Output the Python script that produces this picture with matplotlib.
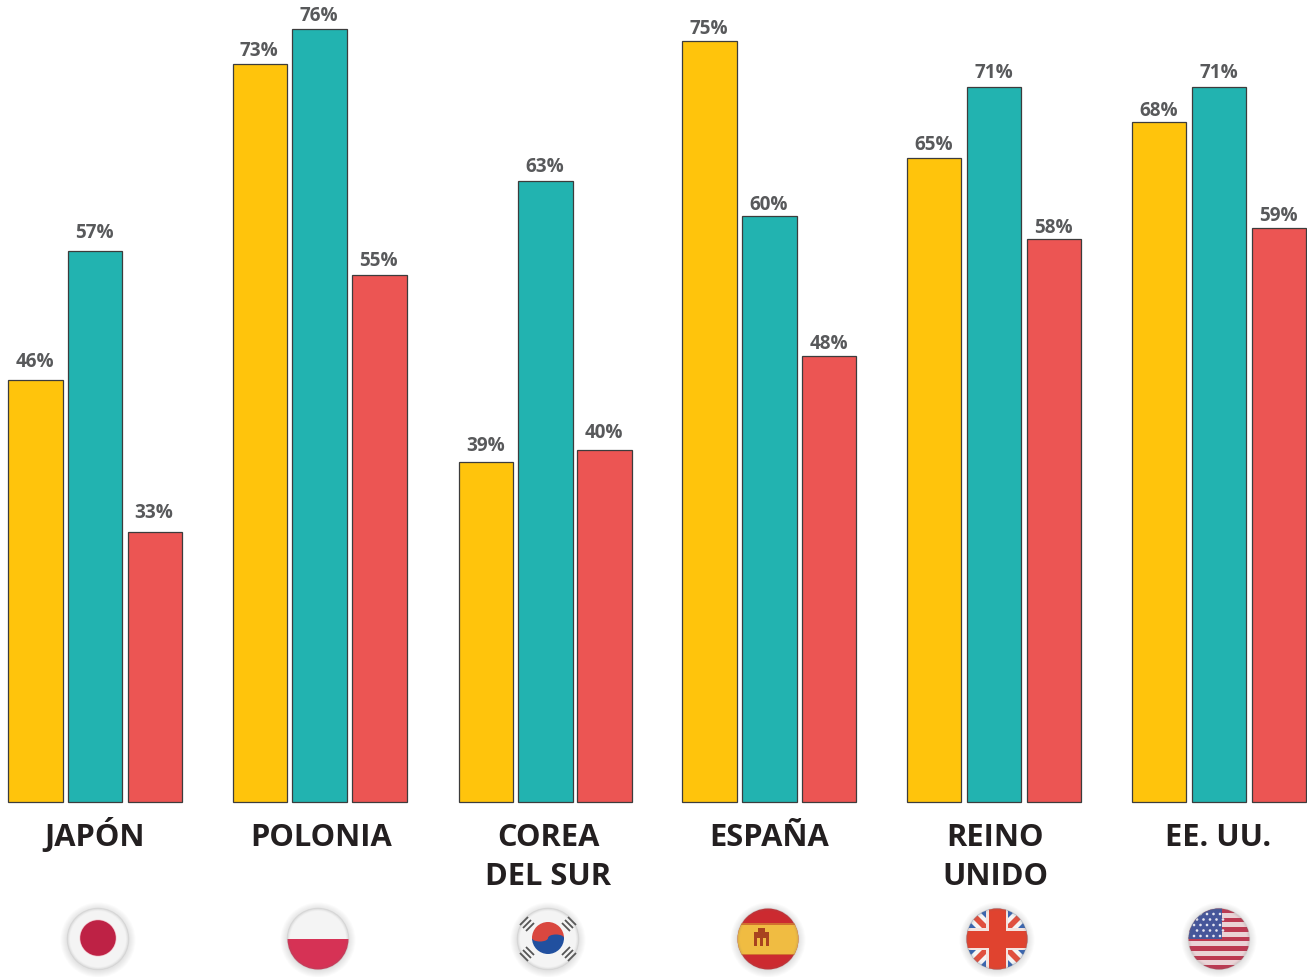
import matplotlib
matplotlib.use('Agg')
import matplotlib.pyplot as plt
from matplotlib.patches import Circle, Rectangle, Wedge, Polygon, Ellipse

plt.rcParams['font.family'] = ['Open Sans', 'DejaVu Sans']

# valores
paises = ['JAPÓN', 'POLONIA', 'COREA\nDEL SUR', 'ESPAÑA', 'REINO\nUNIDO', 'EE. UU.']
serie_amarilla = [46, 73, 39, 75, 65, 68]
serie_verde = [57, 76, 63, 60, 71, 71]
serie_roja = [33, 55, 40, 48, 58, 59]

colores = ['#FFC40C', '#22B3B0', '#EC5553']

# layout en pixeles
W, H = 1307, 977
inicio_grupo = [8.3, 232.5, 459.2, 682.4, 907.2, 1132.2]
paso_grupo = [59.6, 59.9, 59.1, 59.9, 59.9, 59.9]
ancho = 54.2
centro_texto = [95, 321, 548, 769, 995, 1218]
centro_bandera = [98, 318, 548, 768, 997, 1219]
# separacion etiqueta-barra, en el original no es constante
sep_etiqueta = [[13, 8, 11, 6, 7, 6],
                [13, 8, 9, 6, 9, 9],
                [14, 9, 12, 7, 6, 7]]
base_px, px_por_pct, base_val = 801, 11.7, 10
extra = 1 / px_por_pct  # la base de las barras queda 1 px mas abajo

fig = plt.figure(figsize=(W / 100, H / 100), dpi=100)
ax = fig.add_axes([0, 0, 1, 1])
ax.set_xlim(0, W)
ax.set_ylim(base_val - (H - base_px) / px_por_pct, base_val + base_px / px_por_pct)
ax.axis('off')

for s, serie in enumerate([serie_amarilla, serie_verde, serie_roja]):
    xs = [x + s * p for x, p in zip(inicio_grupo, paso_grupo)]
    ax.bar(xs, [v - base_val + extra for v in serie], width=ancho, bottom=base_val - extra, align='edge',
           color=colores[s], edgecolor='#3c3c3c', linewidth=0.9)
    for x, v, sep in zip(xs, serie, sep_etiqueta[s]):
        ax.annotate('%d%%' % v, (x + ancho / 2 - 0.5, v), xytext=(0, sep * 0.72), textcoords='offset points',
                    ha='center', va='baseline', fontsize=13.6, fontweight='bold', color='#58595b')

# capa en pixeles para nombres y banderas
ax2 = fig.add_axes([0, 0, 1, 1])
ax2.set_xlim(0, W)
ax2.set_ylim(H, 0)
ax2.axis('off')
ax2.patch.set_alpha(0)

for cx, nombre in zip(centro_texto, paises):
    for i, linea in enumerate(nombre.split('\n')):
        ax2.text(cx, 846 + i * 39, linea, ha='center', va='baseline', fontsize=22.2, fontweight='bold',
                 color='#231f20')


def rect(cx, cy, x, y, w, h, c, clip):
    p = Rectangle((cx + x, cy + y), w, h, color=c, lw=0, zorder=3)
    ax2.add_patch(p)
    p.set_clip_path(clip)
    return p


def poly(cx, cy, pts, c, clip):
    p = Polygon([(cx + a, cy + b) for a, b in pts], color=c, lw=0, zorder=3)
    ax2.add_patch(p)
    p.set_clip_path(clip)
    return p


def bandera_base(cx, cy=939, r=30.5):
    # sombra difusa alrededor
    for k in range(7):
        ax2.add_patch(Circle((cx, cy + 1), r + 7 - k, color='#000000', alpha=0.014, lw=0, zorder=1))
    fondo = Circle((cx, cy), r, color='#f4f4f4', lw=0, zorder=2)
    ax2.add_patch(fondo)
    for k, a in enumerate([0.15, 0.08, 0.04]):
        ax2.add_patch(Circle((cx, cy), r - k * 0.9, fill=False, ec='#777777', alpha=a, lw=1.0, zorder=6))
    return fondo


# Japon
cx = centro_bandera[0]
bandera_base(cx)
ax2.add_patch(Circle((cx, 938), 18.5, color='#F3C6CE', lw=0, zorder=3))
ax2.add_patch(Circle((cx, 938), 17.8, color='#BE2245', lw=0, zorder=3))

# Polonia
cx = centro_bandera[1]
c = bandera_base(cx)
rect(cx, 939, -32, 0, 64, 32, '#D63255', c)

# Corea
cx = centro_bandera[2]
c = bandera_base(cx)
ax2.add_patch(Wedge((cx, 938), 16, 180, 360, color='#D9473F', lw=0, zorder=3))
ax2.add_patch(Wedge((cx, 938), 16, 0, 180, color='#21509F', lw=0, zorder=3))
ax2.add_patch(Ellipse((cx - 8, 938), 16, 7, color='#D9473F', lw=0, zorder=4))
ax2.add_patch(Ellipse((cx + 8, 938), 16, 7, color='#21509F', lw=0, zorder=4))
for sx, sy in [(-1, -1), (1, -1), (-1, 1), (1, 1)]:
    for d in [-3, 0, 3]:
        mx, my = sx * (21 + d), sy * (15 + d)
        ex, ey = sx * 4, -sy * 4
        ax2.plot([cx + mx - ex, cx + mx + ex], [939 + my - ey, 939 + my + ey],
                 color='#555555', lw=1.3, zorder=4, solid_capstyle='butt')

# Espana
cx = centro_bandera[3]
c = bandera_base(cx)
rect(cx, 939, -32, -32, 64, 64, '#CC2A30', c)
rect(cx, 939, -32, -16, 64, 32, '#F0BC42', c)
rect(cx, 939, -32, -16, 64, 1.5, '#D2702F', c)
rect(cx, 939, -32, 14.5, 64, 1.5, '#D2702F', c)
rect(cx, 939, -14, -7, 15, 14, '#A8431F', c)
rect(cx, 939, -11, -1, 3, 8, '#F0BC42', c)
rect(cx, 939, -5, -1, 3, 8, '#F0BC42', c)
rect(cx, 939, -10, -11, 7, 4, '#A8431F', c)

# Reino Unido
cx = centro_bandera[4]
c = bandera_base(cx)
rect(cx, 939, -32, -32, 64, 64, '#3A66B0', c)
for a, b in [(1, 1), (1, -1)]:
    poly(cx, 939, [(-32 * a - 5, -32 * b + 5 * b), (-32 * a + 5, -32 * b - 5 * b),
                   (32 * a + 5, 32 * b - 5 * b), (32 * a - 5, 32 * b + 5 * b)], '#F4F4F4', c)
for a, b in [(1, 1), (1, -1)]:
    poly(cx, 939, [(-32 * a - 2, -32 * b + 2 * b), (-32 * a + 2, -32 * b - 2 * b),
                   (32 * a + 2, 32 * b - 2 * b), (32 * a - 2, 32 * b + 2 * b)], '#E0503F', c)
rect(cx, 939, -32, -11, 64, 22, '#F4E4E0', c)
rect(cx, 939, -11, -32, 22, 64, '#F4E4E0', c)
rect(cx, 939, -32, -8.5, 64, 17, '#E0432F', c)
rect(cx, 939, -8.5, -32, 17, 64, '#E0432F', c)

# EE. UU.
cx = centro_bandera[5]
c = bandera_base(cx)
alto_franja = 62 / 13
for i in range(13):
    rect(cx, 939, -32, -31 + i * alto_franja, 64, alto_franja, '#BC3A52' if i % 2 == 0 else '#EAD3D6', c)
rect(cx, 939, -32, -31, 35, 31, '#46569A', c)
for fila in range(5):
    for col in range(5):
        sx, sy = -25 + col * 6.5 + (fila % 2) * 3, -25 + fila * 5.5
        estrella = Circle((cx + sx, 939 + sy), 1.3, color='#E8E8F2', lw=0, zorder=4)
        ax2.add_patch(estrella)
        estrella.set_clip_path(c)

fig.savefig('out.png', dpi=100)
